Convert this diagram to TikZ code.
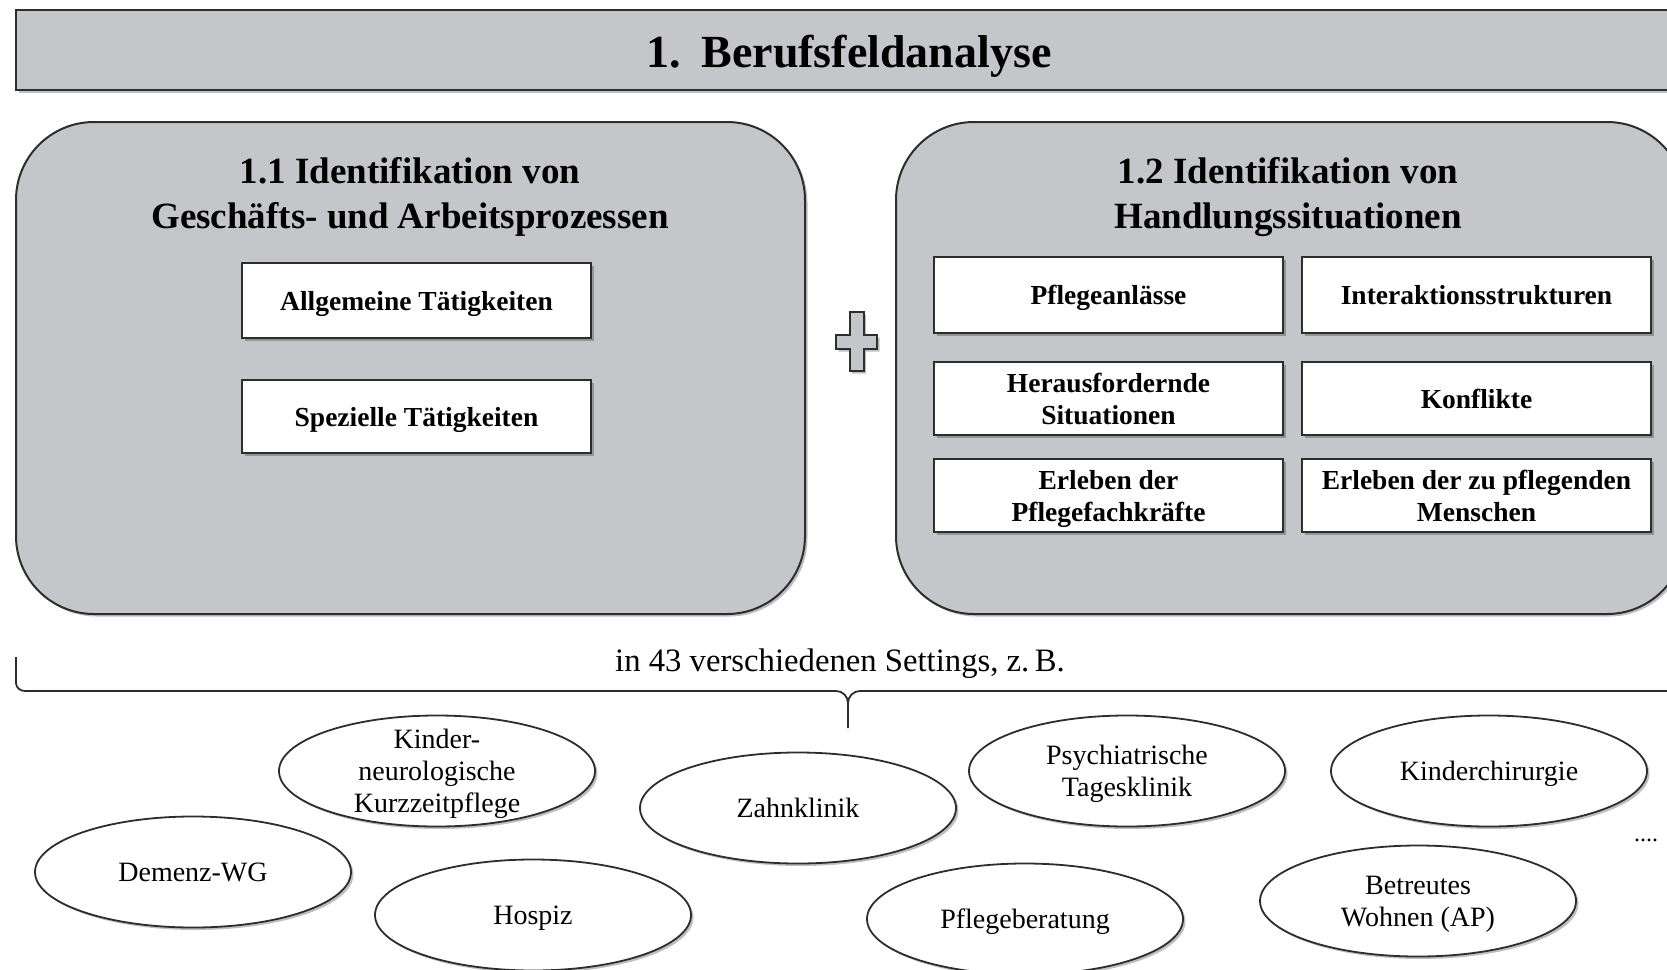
\documentclass[tikz,border=0pt]{standalone}
\usepackage{fontspec}
\setmainfont{Liberation Serif}
\usetikzlibrary{shapes.geometric,shadows}
\definecolor{boxgray}{RGB}{197,198,202}
\definecolor{edgecol}{RGB}{45,45,45}
\begin{document}
\begin{tikzpicture}[x=1pt,y=-1pt,
  shade/.style={drop shadow={shadow xshift=2.5pt,shadow yshift=-2.5pt,opacity=0.25,fill=black}},
  titlebar/.style={draw=edgecol,line width=2pt,fill=boxgray,shade},
  titletext/.style={text depth=0pt,font=\fontsize{46}{52}\selectfont\bfseries},
  bigbox/.style={draw=edgecol,line width=2pt,fill=boxgray,rounded corners=78pt,
    minimum width=789pt,minimum height=492pt,inner sep=0pt,shade},
  boxtitle/.style={align=center,text depth=0pt,font=\fontsize{37}{45}\selectfont\bfseries},
  item/.style={draw=edgecol,line width=2pt,fill=white,minimum width=349pt,
    minimum height=74pt,inner sep=0pt,align=center,text depth=0pt,
    font=\fontsize{27.5}{32}\selectfont\bfseries,shade},
  setting/.style={ellipse,draw=edgecol,line width=1.8pt,fill=white,minimum width=316pt,
    minimum height=111pt,inner sep=0pt,align=center,text depth=0pt,
    font=\fontsize{28}{32}\selectfont,shade},
  settingtext/.style={align=center,inner sep=0pt,text depth=0pt,font=\fontsize{28}{32}\selectfont},
  bracestyle/.style={draw=edgecol,line width=1.8pt},
  plusstyle/.style={draw=edgecol,line width=2pt,fill=boxgray,line join=miter}
]
\useasboundingbox (0,0) rectangle (1667,969);
\clip (0,0) rectangle (1667,969);

% title bar
\path[titlebar] (16,10) rectangle (1720,90);
\node[titletext] (title) at (849,51) {1.\hspace{0.45em}Berufsfeldanalyse};

% big boxes
\node[bigbox] (box1) at (410.5,368) {};
\node[bigbox] (box2) at (1290.5,368) {};

\node[boxtitle] (t1) at (410,192.5) {1.1 Identifikation von\\Geschäfts- und Arbeitsprozessen};
\node[boxtitle] (t2) at (1288,192.5) {1.2 Identifikation von\\Handlungssituationen};

% left items
\node[item,minimum height=75pt] (allg) at (416.5,300.5) {Allgemeine Tätigkeiten};
\node[item,minimum height=73pt] (spez) at (416.5,416.5) {Spezielle Tätigkeiten};

% right grid
\node[item,minimum height=76pt] (anl) at (1108.5,295) {Pflegeanlässe};
\node[item,minimum height=76pt] (inter) at (1476.5,295) {Interaktionsstrukturen};
\node[item,minimum height=73pt] (heraus) at (1108.5,398.5) {Herausfordernde\\Situationen};
\node[item,minimum height=73pt] (konf) at (1476.5,398.5) {Konflikte};
\node[item,minimum height=73pt] (erlpf) at (1108.5,495.5) {Erleben der\\Pflegefachkräfte};
\node[item,minimum height=73pt] (erlmen) at (1476.5,495.5) {Erleben der zu pflegenden\\Menschen};

% plus sign
\path[plusstyle,shade] (849.5,312) -- (863.5,312) -- (863.5,335) -- (877,335) -- (877,349)
  -- (863.5,349) -- (863.5,371) -- (849.5,371) -- (849.5,349) -- (836,349) -- (836,335)
  -- (849.5,335) -- cycle;

% brace
\node[text depth=0pt,font=\fontsize{32.7}{36}\selectfont] (settings) at (840,660) {in 43 verschiedenen Settings, z.\,B.};
\coordinate (bl) at (16,657);
\coordinate (bt) at (848,728);
\coordinate (br) at (1720,691);
\draw[bracestyle] (bl) -- (16,683) to[out=-90,in=180] (25,691) -- (836,691)
  to[out=0,in=90] (848,703) -- (bt);
\draw[bracestyle] (br) -- (860,691) to[out=180,in=90] (848,703);

% settings ellipses
\node[setting] (kn) at (437,771) {};
\node[settingtext] (kntext) at (kn) {Kinder-\\neurologische\\Kurzzeitpflege};
\node[setting] (zahn) at (798,808) {Zahnklinik};
\node[setting] (psych) at (1127,771) {Psychiatrische\\Tagesklinik};
\node[setting] (kchir) at (1489,771) {Kinderchirurgie};
\node[setting] (dem) at (193,872) {Demenz-WG};
\node[setting] (hosp) at (533,915) {Hospiz};
\node[setting] (pfb) at (1025,919) {Pflegeberatung};
\node[setting] (betr) at (1418,901) {Betreutes\\Wohnen (AP)};
\node[font=\fontsize{24}{26}\selectfont] (dots) at (1646,840) {....};
\end{tikzpicture}
\end{document}
